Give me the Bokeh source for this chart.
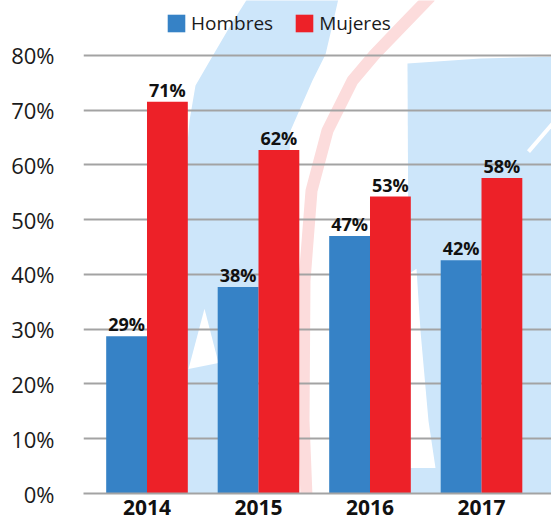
from bokeh.plotting import figure
from bokeh.models import (Range1d, FixedTicker, ColumnDataSource, LabelSet,
                          Legend, LegendItem)
from bokeh.core.properties import value
from bokeh.embed import file_html
from bokeh.resources import INLINE

# ---------------- data ----------------
years = ["2014", "2015", "2016", "2017"]
hombres = [28.7, 37.7, 47.0, 42.6]
mujeres = [71.5, 62.7, 54.2, 57.6]
hombres_labels = ["29%", "38%", "47%", "42%"]
mujeres_labels = ["71%", "62%", "53%", "58%"]
y_ticks = [0, 10, 20, 30, 40, 50, 60, 70, 80]
y_tick_labels = ["0%", "10%", "20%", "30%", "40%", "50%", "60%", "70%", "80%"]
series_names = ["Hombres", "Mujeres"]

# ---------------- style ----------------
BLUE = "#3682C6"
RED = "#ED2128"
WM_BLUE = "#CDE6FA"
WM_PINK = "#FCDCDC"
GRID = "#A3A3A3"
BAR_W = 0.366
OFF = 0.183

p = figure(width=551, height=521, output_backend="svg", toolbar_location=None,
           x_range=Range1d(-0.5695, 3.6278), y_range=Range1d(0, 90.0),
           min_border_left=83, min_border_right=0,
           min_border_top=0, min_border_bottom=28)
p.outline_line_color = None
p.background_fill_color = "white"
p.border_fill_color = "white"

# ---------------- faint watermark (decorative, screen-pixel sketch) ----------------
def sx(v):
    return (v - 146.5) / 111.5

def sy(v):
    return (492.4 - v) / 5.471

band_left = [(247, -2), (230, 25), (213, 54), (195, 85), (189, 120), (182, 200),
             (176, 300), (172, 420), (173, 495), (286, 495), (285, 250), (290, 130),
             (312, 80), (325, 54), (333, 20), (338, -2)]
band_right = [(407, 63), (480, 58), (553, 56), (553, 495), (409, 495)]
white_cut = [(410, 272), (416, 268), (420, 330), (428, 420), (435, 467), (410, 467)]
white_star = [(204, 308), (218, 362), (188, 368)]
pink_arc = [(430, -4), (402, 25), (374, 54), (352, 80), (327, 130), (311, 190),
            (304, 280), (303, 420), (306, 495)]
white_line = [(528, 151), (553, 122)]

for shape, col in [(band_left, WM_BLUE), (band_right, WM_BLUE),
                   (white_cut, "white"), (white_star, "white")]:
    p.patch([sx(a) for a, b in shape], [sy(b) for a, b in shape],
            fill_color=col, line_color=None, level="image")
p.line([sx(a) for a, b in pink_arc], [sy(b) for a, b in pink_arc],
       line_color=WM_PINK, line_width=12, level="image")
p.line([sx(a) for a, b in white_line], [sy(b) for a, b in white_line],
       line_color="white", line_width=4, level="image")

# ---------------- bars ----------------
xs = list(range(len(years)))
src = ColumnDataSource(dict(
    xh=[x - OFF for x in xs], xm=[x + OFF for x in xs],
    h=hombres, m=mujeres, hl=hombres_labels, ml=mujeres_labels))

rh = p.vbar(x="xh", top="h", bottom=0, width=BAR_W, source=src,
            fill_color=BLUE, line_color=None)
rm = p.vbar(x="xm", top="m", bottom=0, width=BAR_W, source=src,
            fill_color=RED, line_color=None)

# ---------------- axes / grid ----------------
yticker = FixedTicker(ticks=y_ticks)
yax = p.yaxis[0]
yax.ticker = yticker
yax.major_label_overrides = {t: l for t, l in zip(y_ticks, y_tick_labels)}
yax.axis_line_color = None
yax.major_tick_line_color = None
yax.minor_tick_line_color = None
yax.major_label_standoff = 23
yax.major_label_text_font = "Open Sans"
yax.major_label_text_font_size = "22px"
yax.major_label_text_color = "#1a1a1a"

xax = p.xaxis[0]
xax.ticker = FixedTicker(ticks=xs)
xax.major_label_overrides = {x: y for x, y in zip(xs, years)}
xax.axis_line_color = GRID
xax.axis_line_width = 2
xax.major_tick_line_color = None
xax.minor_tick_line_color = None
xax.major_label_standoff = 0
xax.major_label_text_font = "Open Sans"
xax.major_label_text_font_style = "bold"
xax.major_label_text_font_size = "21px"
xax.major_label_text_color = "#111111"

p.xgrid.visible = False
p.ygrid.ticker = yticker
p.ygrid.grid_line_color = GRID
p.ygrid.grid_line_width = 2

# ---------------- value labels ----------------
lab_common = dict(source=src, text_align="center", text_font=value("Open Sans"),
                  text_font_style="bold", text_color="#111111",
                  text_baseline="alphabetic", text_font_size="18px", y_offset=5)
p.add_layout(LabelSet(x="xh", y="h", text="hl", **lab_common))
p.add_layout(LabelSet(x="xm", y="m", text="ml", **lab_common))

# ---------------- legend ----------------
legend = Legend(items=[LegendItem(label=series_names[0], renderers=[rh]),
                       LegendItem(label=series_names[1], renderers=[rm])],
                orientation="horizontal", location=(82, 457),
                glyph_width=22, glyph_height=22, label_standoff=4, spacing=20,
                padding=0, margin=0, border_line_color=None,
                background_fill_alpha=0, label_text_font="Open Sans",
                label_text_font_size="19px", label_text_color="#1a1a1a")
p.add_layout(legend, "center")

open("out.html", "w").write(file_html(p, INLINE))
